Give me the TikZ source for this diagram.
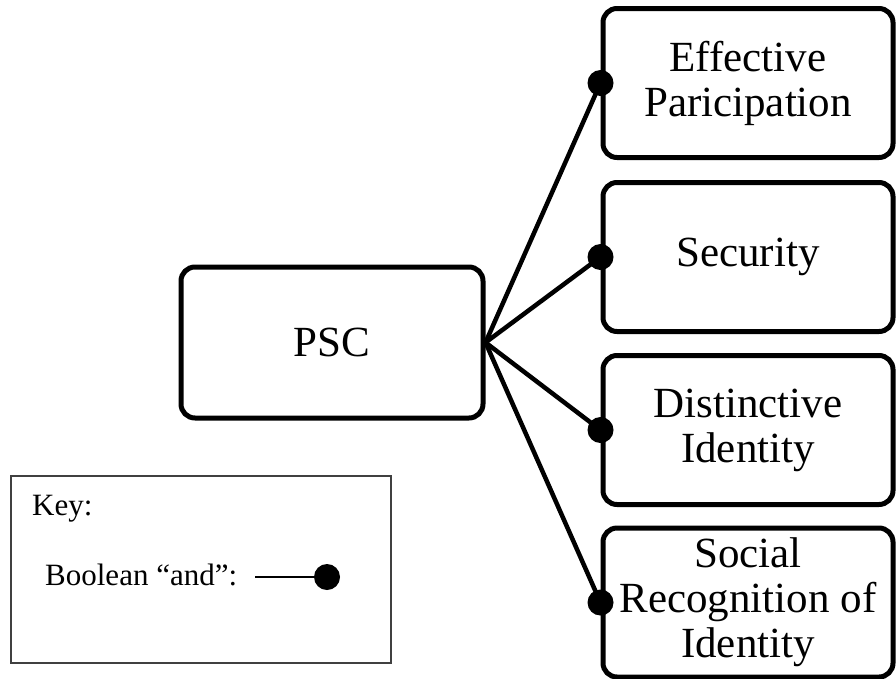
\documentclass[tikz,border=0pt]{standalone}
\usepackage{fontspec}
\setmainfont{Liberation Serif}
\begin{document}
\begin{tikzpicture}[x=1pt,y=-1pt,
  box/.style={draw=black, line width=5pt, rounded corners=14pt, fill=white,
    align=center, inner sep=0pt, minimum width=290pt, minimum height=149pt,
    font=\fontsize{43}{45}\selectfont},
  link/.style={line width=4.5pt, line cap=round},
  anddot/.style={fill=black},
  keytext/.style={inner sep=0pt, anchor=base west, font=\fontsize{31}{35}\selectfont}]
  \useasboundingbox (0,0) rectangle (896,678);

  % central concept
  \node[box, minimum width=302pt, minimum height=151pt] (psc) at (332,342.5) {PSC};

  % components
  \node[box] (ep)  at (748,83)    {Effective\\Paricipation};
  \node[box] (sec) at (748,257)   {Security};
  \node[box] (di)  at (748,430)   {Distinctive\\Identity};
  \node[box] (sri) at (748,602.5) {Social\\Recognition of\\Identity};

  % boolean "and" links
  \foreach \t in {ep,sec,di,sri}{
    \draw[link] (psc.east) -- (\t.west);
    \fill[anddot] (\t.west) circle (13pt);
  }

  % key
  \node[draw=black!75, line width=1.5pt, minimum width=380pt, minimum height=187pt,
        inner sep=0pt] (key) at (201,569.5) {};
  \node[keytext] (keylbl) at (32,515) {Key:};
  \node[keytext] (andlbl) at (45,585) {Boolean “and”:};
  \coordinate (ks) at (255,577);
  \coordinate (ke) at (327,577);
  \draw[line width=2pt] (ks) -- (ke);
  \fill[anddot] (ke) circle (13pt);
\end{tikzpicture}
\end{document}
